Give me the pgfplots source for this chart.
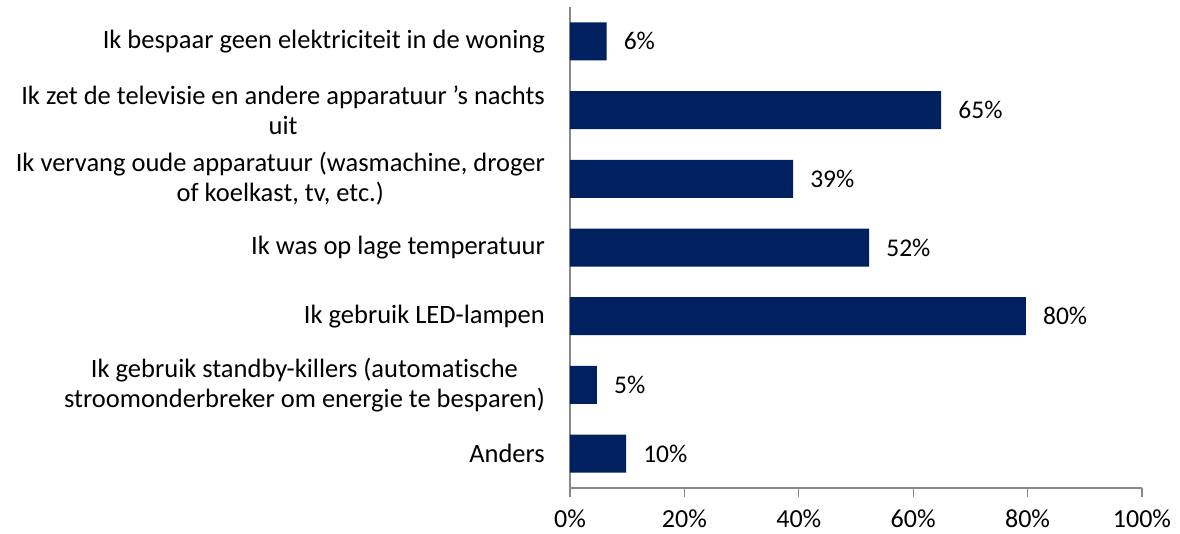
\documentclass[border=0pt]{standalone}
\usepackage{fontspec}
\setmainfont{Carlito}[Ligatures={NoCommon}]
\usepackage{pgfplots}
\pgfplotsset{compat=1.18}
\usepackage{pgfplotstable}

\definecolor{barblue}{HTML}{002060}
\definecolor{axgray}{HTML}{898989}
\newcommand\catfont{\fontsize{26.5}{30.5}\selectfont}
\newcommand\numfont{\fontsize{26}{30}\selectfont}
\newcommand\valfont{\fontsize{25.5}{30}\selectfont}

% y = position from the bottom (Anders = 0), x = share in percent
\pgfplotstableread{
y x lab
6 6.4 6
5 64.9 65
4 39.0 39
3 52.3 52
2 79.7 80
1 4.7 5
0 9.8 10
}\besparing

\begin{document}
\begin{tikzpicture}
\useasboundingbox (-570pt,-45pt) rectangle (610pt,488pt);
\begin{axis}[
  at={(0pt,0pt)}, anchor=south west,
  width=572pt, height=481pt, scale only axis,
  xbar, bar width=38pt,
  xmin=0, xmax=100, ymin=-0.5, ymax=6.5,
  axis lines=left,
  every outer x axis line/.append style={-},
  every outer y axis line/.append style={-},
  axis line style={axgray, line width=1.3pt, -},
  xtick={0,20,40,60,80,100},
  xticklabels={0\%,20\%,40\%,60\%,80\%,100\%},
  ytick={0,1,2,3,4,5,6},
  yticklabels={Anders,
    {Ik gebruik standby-killers (automatische\\stroomonderbreker om energie te besparen)},
    Ik gebruik LED-lampen,
    Ik was op lage temperatuur,
    {Ik vervang oude apparatuur (wasmachine, droger\\of koelkast, tv, etc.)},
    {Ik zet de televisie en andere apparatuur ’s nachts\\uit},
    Ik bespaar geen elektriciteit in de woning},
  tick align=outside, major tick length=9pt,
  xtick style={axgray, line width=1.3pt},
  ytick style={draw=none},
  xticklabel style={font=\numfont, black, yshift=-9pt},
  yticklabel style={font=\catfont, black, align=center, inner sep=0pt, xshift=-16pt},
  point meta=explicit symbolic,
  nodes near coords={\pgfplotspointmeta\%},
  every node near coord/.append style={font=\valfont, black, anchor=west, inner sep=0pt, xshift=17pt},
  clip=false,
]
\addplot[fill=barblue, draw=none] table[x=x, y=y, meta=lab] {\besparing};
\end{axis}
\end{tikzpicture}
\end{document}
